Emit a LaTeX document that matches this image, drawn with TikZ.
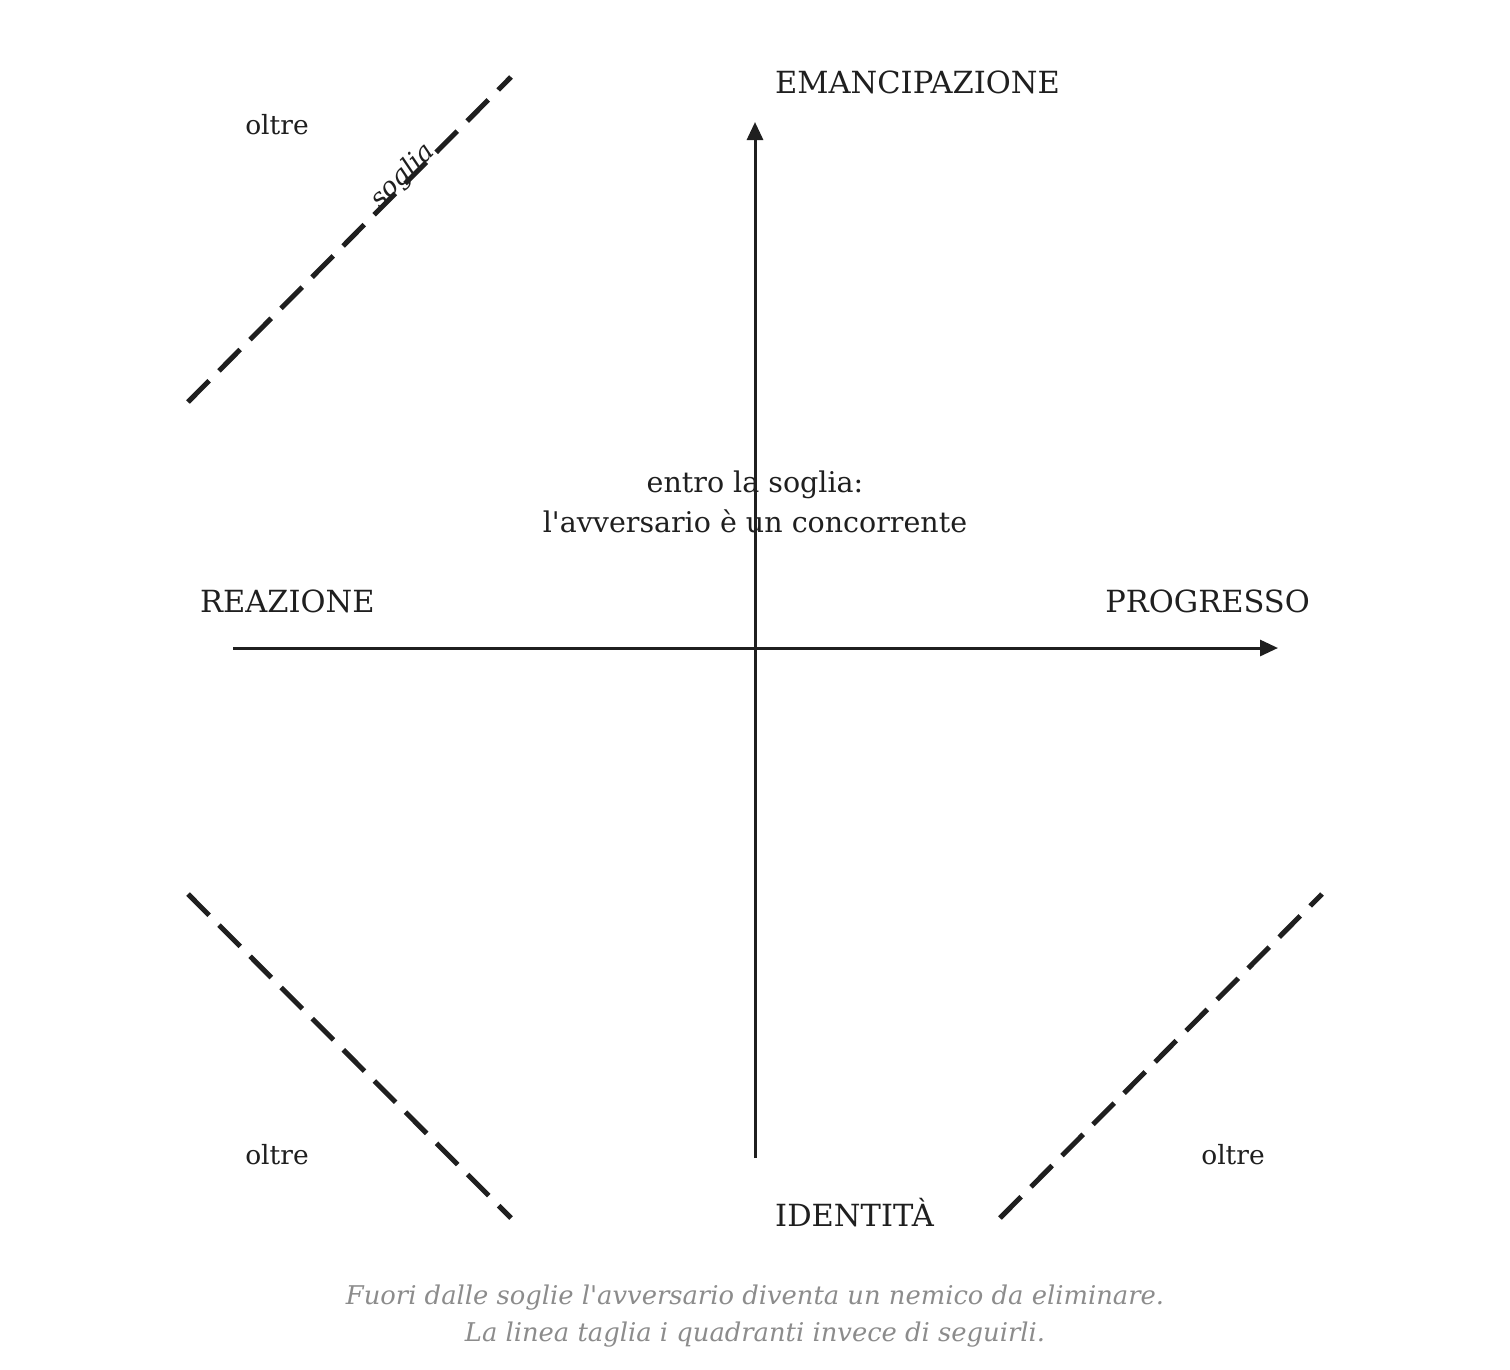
\documentclass[tikz,border=0pt]{standalone}
\usepackage{fontspec}
\setmainfont{DejaVu Serif}
\usetikzlibrary{arrows.meta}
\begin{document}
\begin{tikzpicture}[x=1pt,y=-1pt,
 axis/.style={line width=3pt,draw=black!88,-{Triangle[length=18pt,width=16pt]}},
 thr/.style={line width=5pt,draw=black!88,dash pattern=on 30pt off 14pt},
 big/.style={font=\fontsize{30.5}{36}\selectfont,text=black!88,inner sep=0},
 mid/.style={font=\fontsize{28.5}{40}\selectfont,text=black!88,inner sep=0,align=center},
 sm/.style={font=\fontsize{26.5}{30}\selectfont,text=black!88,inner sep=0},
 captxt/.style={font=\itshape\fontsize{25.8}{37}\selectfont,text=black!45,inner sep=0,align=center}]
\useasboundingbox (0,0) rectangle (1510,1369);
\coordinate (vb) at (755,1158); \coordinate (vt) at (755,122);
\coordinate (hl) at (233,648); \coordinate (hr) at (1278,648);
\draw[axis] (vb) -- (vt);
\draw[axis] (hl) -- (hr);
\coordinate (a1) at (188,402); \coordinate (a2) at (511,77);
\coordinate (b1) at (188,894); \coordinate (b2) at (511,1218);
\coordinate (c1) at (1000,1218); \coordinate (c2) at (1322,894);
\draw[thr] (a1) -- (a2);
\draw[thr] (b1) -- (b2);
\draw[thr] (c1) -- (c2);
\node[sm,font=\itshape\fontsize{26.5}{30}\selectfont,rotate=45] (sg) at (403,176) {soglia};
\node[big,anchor=west] (em) at (775,82) {EMANCIPAZIONE};
\node[big,anchor=west] (re) at (200,601) {REAZIONE};
\node[big,anchor=east] (pr) at (1310,601) {PROGRESSO};
\node[big,anchor=west] (id) at (775,1213) {IDENTITÀ};
\node[sm] (o1) at (277,125) {oltre};
\node[sm] (o2) at (277,1155) {oltre};
\node[sm] (o3) at (1233,1155) {oltre};
\node[mid] (ct) at (755,502) {entro la soglia:\\l\textquotesingle avversario è un concorrente};
\node[captxt] (cp) at (755,1316) {Fuori dalle soglie l\textquotesingle avversario diventa un nemico da eliminare.\\La linea taglia i quadranti invece di seguirli.};
\end{tikzpicture}
\end{document}
